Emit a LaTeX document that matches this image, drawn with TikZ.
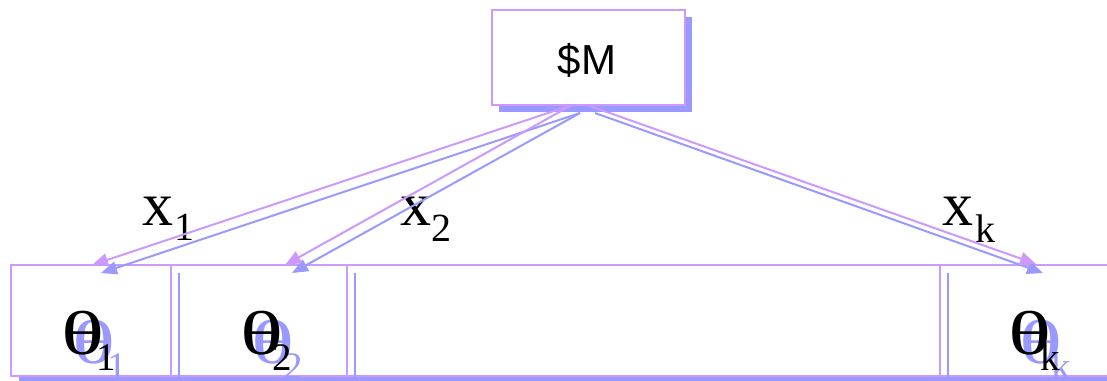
\documentclass[tikz,border=0pt]{standalone}
\usepackage{fontspec}
\setmainfont{Liberation Serif}
\newfontfamily\sansf{Liberation Sans}
\usetikzlibrary{arrows.meta}
\definecolor{purp}{HTML}{CC99FF}
\definecolor{blu}{HTML}{9999FF}
\newcommand{\wth}{\scalebox{1.45}[1]{θ}}
\begin{document}
\begin{tikzpicture}[x=1pt,y=-1pt,
  pline/.style={draw=purp,line width=2pt},
  bline/.style={draw=blu,line width=2pt},
  parrow/.style={pline,-{Triangle[length=16pt,width=13pt]}},
  barrow/.style={bline,-{Triangle[length=16pt,width=13pt]}},
  big/.style={inner sep=0pt,anchor=base west,font=\fontsize{62}{62}\selectfont},
  lsub/.style={inner sep=0pt,anchor=base west,font=\fontsize{40}{40}\selectfont},
  tsub/.style={inner sep=0pt,anchor=base west,font=\fontsize{39}{39}\selectfont},
  shadowtext/.style={text=blu}]
\useasboundingbox (0,0) rectangle (1107,380);
\fill[white] (0,0) rectangle (1107,380);

% top box
\fill[blu] (499,17) rectangle (692,112);
\node[pline,fill=white,minimum width=193pt,minimum height=95pt,inner sep=0pt,anchor=north west] (M) at (491,9) {};
\node[anchor=base,inner sep=0pt,font=\sansf\fontsize{42}{42}\selectfont] (Mtext) at (587,74) {\$M};

% bottom row
\fill[blu] (19,273) rectangle (1125,388);
\draw[pline,fill=white] (11,265) rectangle (1125,376);
\foreach \xx/\nm in {171/d1,347/d2,940/d3}{
  \coordinate (\nm top) at (\xx,265);
  \coordinate (\nm bot) at (\xx,376);
  \draw[pline] (\nm top) -- (\nm bot);
}
\foreach \xx/\nm in {179/e1,355/e2,948/e3}{
  \coordinate (\nm top) at (\xx,273);
  \coordinate (\nm bot) at (\xx,380);
  \draw[bline] (\nm top) -- (\nm bot);
}

% theta labels: shadows (offset 11,9)
\node[big,shadowtext] (s1) at (72,363) {\wth};
\node[tsub,shadowtext] (s1s) at (107,379) {1};
\node[big,shadowtext] (s2) at (251,363) {\wth};
\node[tsub,shadowtext] (s2s) at (283,379) {2};
\node[big,shadowtext] (sk) at (1019,363) {\wth};
\node[tsub,shadowtext] (sks) at (1051,379) {k};
% theta labels
\node[big] (t1) at (61,354) {\wth};
\node[tsub] (t1s) at (96,370) {1};
\node[big] (t2) at (240,354) {\wth};
\node[tsub] (t2s) at (272,370) {2};
\node[big] (tk) at (1008,354) {\wth};
\node[tsub] (tks) at (1040,370) {k};

% edge labels
\node[big] (x1) at (142,225) {x};
\node[lsub] (x1s) at (174,240) {1};
\node[big] (x2) at (400,225) {x};
\node[lsub] (x2s) at (431,241) {2};
\node[big] (xk) at (942,225) {x};
\node[lsub] (xks) at (975,242) {k};

% arrows
\coordinate (po) at (572,105);
\coordinate (pok) at (587,105);
\coordinate (bo) at (580,113);
\coordinate (bok) at (595,113);
\coordinate (p1) at (92,265);
\coordinate (p2) at (285,265);
\coordinate (pk) at (1036,264);
\coordinate (b1) at (101,273);
\coordinate (b2) at (292,273);
\coordinate (bk) at (1043,273);
\draw[barrow] (bo) -- (b1);
\draw[barrow] (bo) -- (b2);
\draw[barrow] (bok) -- (bk);
\draw[parrow] (po) -- (p1);
\draw[parrow] (po) -- (p2);
\draw[parrow] (pok) -- (pk);
\end{tikzpicture}
\end{document}
